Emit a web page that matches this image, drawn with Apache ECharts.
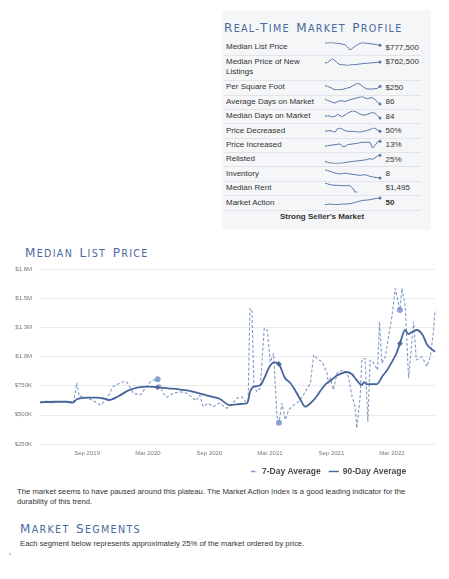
<!DOCTYPE html>
<html><head><meta charset="utf-8">
<script src="https://cdn.jsdelivr.net/npm/echarts@6/dist/echarts.min.js"></script>
<style>
html,body{margin:0;padding:0;background:#fff;width:449px;height:579px;overflow:hidden;font-family:"Liberation Sans",Arial,sans-serif;color:#333;}
.abs{position:absolute;white-space:nowrap;}
#chart{position:absolute;left:0;top:0;width:449px;height:579px;z-index:2;}
.box{position:absolute;left:222px;top:10px;width:209px;height:220px;background:#f5f6f8;}
.head{color:#4b6a9e;font-family:"DejaVu Sans",sans-serif;letter-spacing:1.3px;line-height:14px;height:14px;}
.head .b{font-size:12px}.head .s{font-size:9.6px}
.lbl{position:absolute;font-size:8px;line-height:10.5px;color:#333;width:95px;}
.val{position:absolute;font-size:8px;line-height:10px;color:#333;white-space:nowrap;}
.sep{position:absolute;left:224px;width:197px;height:1px;background:#e1e4e9;}
.body{font-size:7.7px;line-height:10px;color:#333;}
</style></head>
<body>
<div class="box"></div>
<div class="abs head" style="left:224px;top:20px"><span class="b">R</span><span class="s">EAL-</span><span class="b">T</span><span class="s">IME</span> <span class="b">M</span><span class="s">ARKET</span> <span class="b">P</span><span class="s">ROFILE</span></div>
<div id="rows"></div>
<div class="abs" style="left:222px;width:200px;top:212px;text-align:center;font-size:8px;line-height:10px;font-weight:bold;color:#333;">Strong Seller's Market</div>

<div class="abs head" style="left:25px;top:245px"><span class="b">M</span><span class="s">EDIAN</span> <span class="b">L</span><span class="s">IST</span> <span class="b">P</span><span class="s">RICE</span></div>

<div class="abs body" style="left:17px;top:487px">The market seems to have paused around this plateau. The Market Action Index is a good leading indicator for the<br>durability of this trend.</div>
<div class="abs head" style="left:20px;top:521px"><span class="b">M</span><span class="s">ARKET</span> <span class="b">S</span><span class="s">EGMENTS</span></div>
<div class="abs body" style="left:20px;top:539px">Each segment below represents approximately 25% of the market ordered by price.</div>
<div class="abs" style="left:9px;top:553px;width:2px;height:2px;background:#ccc;"></div>

<div id="chart"></div>
<script>
// ---------- DATA ----------
const profileLabels = ['Median List Price','Median Price of New Listings','Per Square Foot','Average Days on Market','Median Days on Market','Price Decreased','Price Increased','Relisted','Inventory','Median Rent','Market Action'];
const profileValues = ['$777,500','$762,500','$250','86','84','50%','13%','25%','8','$1,495','50'];

const sparkMedianListPrice = [797000,798500,800000,800000,797000,794000,791000,786500,782000,761000,734000,749000,767000,782000,794000,800000,797000,794000,791000,788000,785000,780500,777500];
const sparkNewListingPrice = [759500,761500,766500,772500,766500,759500,754500,754500,753500,752500,753500,754500,754500,755500,756500,757500,758500,758500,759500,760500,760500,761500,762500];
const sparkPerSquareFoot = [251,250,248.5,246.5,245,245,245,245.5,246.5,247.5,248.5,250.5,252.5,254.5,253,250,247.5,246,246,246,246.5,247,250];
const sparkAvgDays = [93.5,91.5,90,88.5,87.5,89.5,91,90.5,90,91,92.5,93.5,94.5,95.5,96.5,97,95,94,95,95.5,92.5,89,86];
const sparkMedianDays = [86.5,87.5,87,85.5,86.5,89.5,87.5,86,88.5,91,93,94.5,94,92,90,88.5,88.5,89.5,91,92.5,91,87.5,84];
const sparkPriceDecreased = [50,50.5,51,50,48.5,54,55,53,51,50,50,50,49.5,49,49,49.5,50.5,51.5,52.5,55,54.5,52,50];
const sparkPriceIncreased = [9.25,9.75,10,10.25,10.5,10.75,11,9,9.25,10.5,10.75,11,11.25,11.5,12,12.25,12.25,12.25,12.25,8,9.75,12.5,13];
const sparkRelisted = [16,14.5,13.5,13.25,13,13,13.25,13.5,14,14.75,15.25,15.75,16.25,16.75,17,17.5,18,19,20,19,21,24,25];
const sparkInventory = [18,17,16,15,14,13.4,12.8,13.4,14,13.4,12.8,12.4,12,11.6,11.2,11.6,12,11,10,9.4,8.8,8.4,8];
const sparkMedianRent = [1635,1622.5,1610,1605,1600,1600,1597.5,1595,1595,1595,1595,1560,1500,1495,null,null,null,null,null,null,null,null,null];
const sparkMarketAction = [40,40.5,41,40.5,40,40.25,40.5,41,41,41.25,41.5,42.25,43.5,44.5,45.5,46.25,46.75,47,47.5,48.25,49,49.5,50];

const sevenDayDates = ['2019-04-13','2019-05-01','2019-05-19','2019-06-06','2019-06-24','2019-07-09','2019-07-22','2019-08-01','2019-08-09','2019-08-17','2019-08-29','2019-09-16','2019-10-01','2019-10-10','2019-10-25','2019-11-08','2019-11-17','2019-12-03','2019-12-18','2019-12-29','2020-01-17','2020-02-07','2020-02-26','2020-03-12','2020-03-30','2020-04-16','2020-04-27','2020-05-16','2020-06-05','2020-06-25','2020-07-14','2020-07-24','2020-08-03','2020-08-13','2020-08-28','2020-09-12','2020-09-30','2020-10-23','2020-11-05','2020-11-22','2020-12-07','2020-12-20','2020-12-26','2020-12-31','2021-01-06','2021-01-12','2021-01-21','2021-01-31','2021-02-12','2021-02-21','2021-03-02','2021-03-12','2021-03-22','2021-03-28','2021-04-06','2021-04-16','2021-04-26','2021-05-11','2021-05-26','2021-06-09','2021-06-30','2021-07-10','2021-07-25','2021-08-04','2021-08-19','2021-08-23','2021-08-29','2021-09-07','2021-09-18','2021-10-07','2021-10-22','2021-11-02','2021-11-11','2021-11-16','2021-11-26','2021-12-01','2021-12-11','2021-12-19','2021-12-26','2022-01-04','2022-01-17','2022-01-23','2022-01-30','2022-02-09','2022-02-24','2022-03-01','2022-03-11','2022-03-25','2022-03-31','2022-04-10','2022-04-20','2022-05-05','2022-05-13','2022-05-30','2022-06-14','2022-06-24','2022-07-04','2022-07-08'];
const sevenDayValues = [610000,618000,601000,614000,610000,618000,599000,775000,655000,661000,644000,627000,601000,584000,619000,685000,741000,764000,784000,781000,685000,670000,741000,793000,805000,685000,650000,685000,698000,685000,642000,621000,670000,570000,599000,570000,601000,556000,584000,642000,655000,610000,627000,1413000,1399000,756000,696000,730000,1242000,1227000,953000,1027000,484000,433000,599000,456000,541000,584000,613000,670000,770000,1013000,970000,955000,856000,770000,816000,713000,859000,884000,827000,655000,570000,385000,655000,970000,985000,441000,970000,953000,884000,1298000,942000,998000,1255000,1341000,1584000,1399000,1584000,1427000,813000,1298000,970000,998000,913000,998000,1227000,1399000];

const ninetyDayDates = ['2019-04-13','2019-05-01','2019-06-01','2019-07-01','2019-07-20','2019-08-01','2019-08-15','2019-09-01','2019-10-01','2019-10-20','2019-11-05','2019-12-01','2020-01-01','2020-02-01','2020-03-01','2020-03-30','2020-05-01','2020-06-01','2020-07-01','2020-08-01','2020-09-01','2020-10-01','2020-11-01','2020-12-01','2020-12-22','2021-01-01','2021-01-10','2021-02-01','2021-02-15','2021-03-01','2021-03-15','2021-03-28','2021-04-15','2021-05-01','2021-05-15','2021-06-01','2021-06-15','2021-07-01','2021-07-15','2021-08-01','2021-08-15','2021-09-01','2021-09-15','2021-10-01','2021-10-15','2021-11-01','2021-11-15','2021-12-01','2021-12-08','2021-12-15','2022-01-01','2022-01-15','2022-02-01','2022-02-15','2022-03-01','2022-03-15','2022-03-25','2022-04-10','2022-04-20','2022-05-01','2022-05-15','2022-06-01','2022-06-15','2022-07-08'];
const ninetyDayValues = [607000,610000,612000,612000,604000,633000,644000,647000,647000,640000,627000,655000,707000,736000,741000,736000,727000,719000,707000,684000,661000,638000,584000,593000,599000,700000,740000,756000,833000,919000,949000,936000,816000,773000,713000,627000,570000,601000,644000,713000,764000,799000,833000,854000,867000,850000,799000,756000,781000,764000,764000,764000,833000,884000,953000,1030000,1111000,1227000,1193000,1210000,1227000,1184000,1099000,1041000];

const markerDates = ['2020-03-30','2021-03-28','2022-03-25'];
const markerSevenDay = [805000,433000,1399000];
const markerNinetyDay = [736000,936000,1111000];

const xTickDates = ['2019-09-01','2020-03-01','2020-09-01','2021-03-01','2021-09-01','2022-03-01'];
const seriesNames = ['7-Day Average','90-Day Average'];

// ---------- LAYOUT (reference pixel positions) ----------
const rowY = [47.7,62,87.5,102,116.5,131,145.3,159.7,174,188.3,203];
const sepY = [54.5,79.5,94.5,109,123.3,137.7,152,166.3,180.7,195,209.5];
const sparkTop = [42.7,58.7,83.3,96.7,111,128,141.3,155.3,169.7,183,198];
const sparkBottom = [50,65.3,89.7,104,118,132.3,148,163.3,178,192.3,204.7];

const rows = document.getElementById('rows');
profileLabels.forEach((t,i)=>{
  const l = document.createElement('div'); l.className='lbl';
  l.style.left='226px'; l.style.top=(rowY[i]-5.25)+'px'; l.textContent=t; rows.appendChild(l);
  const v = document.createElement('div'); v.className='val';
  v.style.left='385.5px'; v.style.top=(rowY[i]-5)+'px'; v.textContent=profileValues[i];
  if(i===profileLabels.length-1) v.style.fontWeight='bold';
  rows.appendChild(v);
});
sepY.forEach(y=>{const s=document.createElement('div'); s.className='sep'; s.style.top=y+'px'; rows.appendChild(s);});

// ---------- CHART ----------
const MONTHS=['Jan','Feb','Mar','Apr','May','Jun','Jul','Aug','Sep','Oct','Nov','Dec'];
const ts = s => { const p=s.split('-').map(Number); return new Date(p[0],p[1]-1,p[2]).getTime(); };
const pairs = (d,v) => d.map((x,i)=>[ts(x), v[i]]);
const money = v => v>=1e6 ? '$'+(v/1e6).toFixed(1)+'M' : '$'+Math.round(v/1000)+'K';

const sparks = [sparkMedianListPrice,sparkNewListingPrice,sparkPerSquareFoot,sparkAvgDays,sparkMedianDays,sparkPriceDecreased,sparkPriceIncreased,sparkRelisted,sparkInventory,sparkMedianRent,sparkMarketAction];

const grid=[{left:40,right:14,top:269,bottom:135}];
const xAxis=[{type:'value',gridIndex:0,min:ts('2019-04-13'),max:ts('2022-07-08'),
  axisLine:{show:false},axisTick:{show:false},splitLine:{show:false},
  axisLabel:{customValues:xTickDates.map(ts),formatter:v=>{const d=new Date(v);return MONTHS[d.getMonth()]+' '+d.getFullYear();},
    fontSize:6,color:'#777',margin:6,fontFamily:'Liberation Sans',hideOverlap:false}}];
const yAxis=[{type:'value',gridIndex:0,min:250000,max:1750000,interval:250000,
  axisLine:{show:false},axisTick:{show:false},
  splitLine:{lineStyle:{color:'#ebebeb',width:1}},
  axisLabel:{formatter:money,fontSize:6,color:'#777',margin:8,fontFamily:'Liberation Sans'}}];
const series=[
  {name:seriesNames[0],type:'line',xAxisIndex:0,yAxisIndex:0,data:pairs(sevenDayDates,sevenDayValues),symbol:'none',
   lineStyle:{color:'#809bc6',width:1.1,type:[3,2]},itemStyle:{color:'#809bc6'},z:2},
  {name:seriesNames[1],type:'line',xAxisIndex:0,yAxisIndex:0,data:pairs(ninetyDayDates,ninetyDayValues),symbol:'none',smooth:0.3,
   lineStyle:{color:'#45659b',width:1.8},itemStyle:{color:'#45659b'},z:3},
  {type:'scatter',xAxisIndex:0,yAxisIndex:0,data:pairs(markerDates,markerSevenDay),symbol:'circle',symbolSize:6,itemStyle:{color:'#6f8ec2'},z:4},
  {type:'scatter',xAxisIndex:0,yAxisIndex:0,data:pairs(markerDates,markerNinetyDay),symbol:'diamond',symbolSize:6,itemStyle:{color:'#3d5d93'},z:5}
];
sparks.forEach((arr,i)=>{
  const gi=i+1;
  grid.push({left:325,width:55,top:sparkTop[i],height:sparkBottom[i]-sparkTop[i]});
  xAxis.push({type:'category',gridIndex:gi,show:false,boundaryGap:false,data:arr.map((_,j)=>j)});
  yAxis.push({type:'value',gridIndex:gi,show:false,scale:true,min:'dataMin',max:'dataMax',splitLine:{show:false}});
  let last=-1; arr.forEach((v,j)=>{if(v!==null) last=j;});
  const hasDot = last===arr.length-1;
  series.push({type:'line',xAxisIndex:gi,yAxisIndex:gi,symbol:'none',showSymbol:true,showAllSymbol:true,
    data:arr.map((v,j)=> (hasDot && j===last) ? {value:v,symbol:'circle',symbolSize:3} : v),
    lineStyle:{color:'#5a78aa',width:1},itemStyle:{color:'#5a78aa'},silent:true});
});

const chart=echarts.init(document.getElementById('chart'),null,{renderer:'canvas'});
chart.setOption({
  animation:false,backgroundColor:'transparent',
  grid,xAxis,yAxis,series,
  legend:{left:243,top:462,itemWidth:10,itemHeight:6,itemGap:8,
    data:[
      {name:seriesNames[0],icon:'path://M3,2.4h4.5v1.3h-4.5zM0,3h0.01v0.01h-0.01zM10,3h0.01v0.01h-0.01z',itemStyle:{color:'#809bc6'}},
      {name:seriesNames[1],icon:'path://M0,2.4h10v1.4h-10z',itemStyle:{color:'#45659b'}}
    ],
    textStyle:{fontSize:8.5,fontWeight:'bold',color:'#4a4a4a',fontFamily:'Liberation Sans',padding:[0,0,0,-1]}}
});
</script>
</body></html>
